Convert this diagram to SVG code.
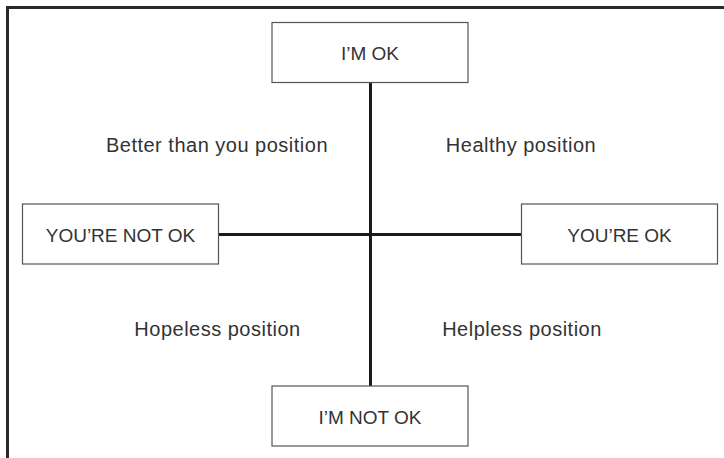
<svg xmlns="http://www.w3.org/2000/svg" width="724" height="458" viewBox="0 0 724 458">
<style>
.box{fill:#fff;stroke:#555;stroke-width:1.2}
.t{font-family:"Liberation Sans","DejaVu Sans",sans-serif;font-size:19px;fill:#333;text-anchor:middle}
.l{font-size:20px;letter-spacing:0.5px}
.ax{stroke:#1a1a1a;stroke-width:3;fill:none}
</style>
<rect width="724" height="458" fill="#fff"/>
<path d="M7.5 458V7.5H724" fill="none" stroke="#2a2a2a" stroke-width="3"/>
<g id="connectors">
<line class="ax" x1="370.5" y1="83" x2="370.5" y2="386"/>
<line class="ax" x1="219" y1="234.5" x2="521" y2="234.5"/>
</g>
<g id="im-ok"><rect class="box" x="272" y="22.5" width="196" height="60"/><text class="t" x="370" y="60">I’M OK</text></g>
<g id="youre-not-ok"><rect class="box" x="22.5" y="204" width="196" height="60"/><text class="t" x="120.5" y="241.5">YOU’RE NOT OK</text></g>
<g id="youre-ok"><rect class="box" x="521.5" y="204" width="196" height="60"/><text class="t" x="619.5" y="241.5">YOU’RE OK</text></g>
<g id="im-not-ok"><rect class="box" x="272" y="386" width="196" height="60"/><text class="t" x="370" y="423.5">I’M NOT OK</text></g>
<g id="labels">
<text class="t l" x="217" y="152">Better than you position</text>
<text class="t l" x="521" y="152">Healthy position</text>
<text class="t l" x="217.5" y="336">Hopeless position</text>
<text class="t l" x="522" y="336">Helpless position</text>
</g>
</svg>
